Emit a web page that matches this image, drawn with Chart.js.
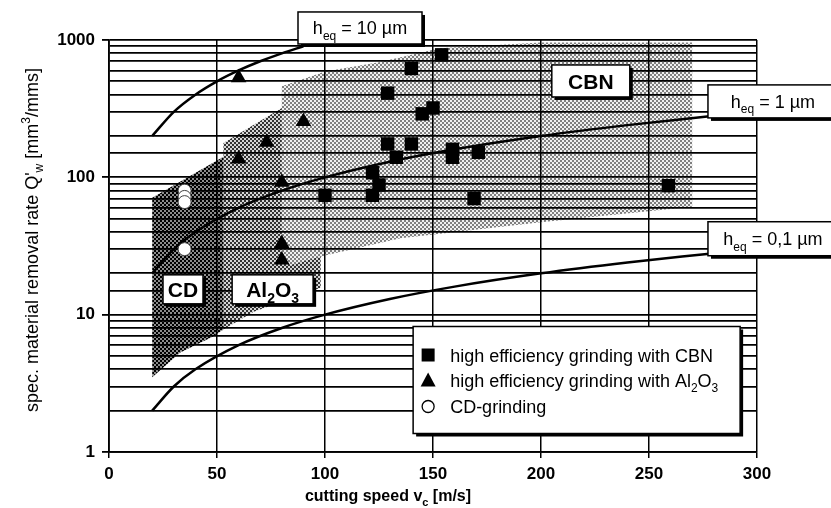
<!DOCTYPE html>
<html>
<head>
<meta charset="utf-8">
<script src="https://cdn.jsdelivr.net/npm/chart.js@4.4.0/dist/chart.umd.min.js"></script>
<style>
  html, body { margin: 0; padding: 0; background: #fff; }
</style>
</head>
<body>
<canvas id="chart" width="831" height="508"></canvas>
<script>
  // axis ticks
  const xTicks = [0, 50, 100, 150, 200, 250, 300];
  const yDecades = [1, 10, 100, 1000];

  // measured points
  const cbnV = [100, 122, 125, 122, 129, 129, 133, 140, 140, 145, 150, 154, 159, 159, 171, 169, 259];
  const cbnQ = [74, 108, 88, 74, 410, 175, 140, 620, 175, 290, 320, 780, 160, 140, 152, 70, 87];
  const aloV = [60, 60, 73, 90, 80, 80, 80];
  const aloQ = [530, 136, 180, 255, 92, 33, 25];
  const cdV = [35, 35, 35, 35];
  const cdQ = [80, 72, 66, 30];

  // h_eq lines
  const heq10V = [20, 30, 40, 50, 60, 70, 80, 90];
  const heq10Q = [200, 300, 400, 500, 600, 700, 800, 900];
  const heq1V = [20, 30, 40, 60, 80, 100, 130, 160, 200, 240, 278];
  const heq1Q = [20, 30, 40, 60, 80, 100, 130, 160, 200, 240, 278];
  const heq01V = [20, 30, 40, 60, 80, 100, 130, 160, 200, 240, 278];
  const heq01Q = [2, 3, 4, 6, 8, 10, 13, 16, 20, 24, 27.8];

  // shaded regions (outline vertices)
  const cdAreaV = [20, 20, 53, 53, 48, 33, 20];
  const cdAreaQ = [3.5, 71, 141, 7.8, 6.9, 5.3, 3.5];
  const aloAreaV = [53, 53, 80, 80, 84, 98, 98, 67, 53];
  const aloAreaQ = [7.8, 178, 320, 25, 23, 26.5, 15.7, 10.5, 7.8];
  const cbnAreaV = [80, 80, 100, 125, 153, 200, 270, 270, 200, 135, 100, 84, 80];
  const cbnAreaQ = [25, 460, 590, 690, 870, 960, 960, 61, 47, 36, 27, 23, 25];

  const pts = (xs, ys) => xs.map((x, i) => ({ x: x, y: ys[i] }));
  const FONT = '"Liberation Sans", Arial, Helvetica, sans-serif';

  function makePattern(a1, a2) {
    const pc = document.createElement('canvas');
    pc.width = 4; pc.height = 4;
    const g = pc.getContext('2d');
    g.fillStyle = 'rgba(0,0,0,' + a2 + ')';
    g.fillRect(2, 0, 2, 2); g.fillRect(0, 2, 2, 2);
    g.fillStyle = 'rgba(0,0,0,' + a1 + ')';
    g.fillRect(0, 0, 2, 2); g.fillRect(2, 2, 2, 2);
    return g.createPattern(pc, 'repeat');
  }

  // text with sub (1) / superscript (2) pieces
  function drawRich(ctx, parts, x, y, size, weight, align) {
    const fontFor = m => weight + ' ' + (m ? Math.round(size * 0.68) : size) + 'px ' + FONT;
    let w = 0;
    parts.forEach(p => { ctx.font = fontFor(p[1]); w += ctx.measureText(p[0]).width; });
    let cx = align === 'center' ? x - w / 2 : x;
    ctx.textAlign = 'left';
    ctx.textBaseline = 'alphabetic';
    parts.forEach(p => {
      ctx.font = fontFor(p[1]);
      const dy = p[1] === 1 ? size * 0.3 : p[1] === 2 ? -size * 0.42 : 0;
      ctx.fillText(p[0], cx, y + dy);
      cx += ctx.measureText(p[0]).width;
    });
  }

  function labelBox(ctx, x, y, w, h, parts, size, weight) {
    ctx.fillStyle = '#000';
    ctx.fillRect(x + 3, y + 3, w, h);
    ctx.fillStyle = '#fff';
    ctx.fillRect(x, y, w, h);
    ctx.strokeStyle = '#000';
    ctx.lineWidth = 1.5;
    ctx.strokeRect(x, y, w, h);
    ctx.fillStyle = '#000';
    drawRich(ctx, parts, x + w / 2, y + h / 2 + size * 0.36, size, weight, 'center');
  }

  const annotations = {
    id: 'annotations',
    afterDraw(chart) {
      const ctx = chart.ctx;
      const sx = chart.scales.x, sy = chart.scales.y;
      const px = v => sx.getPixelForValue(v), py = q => sy.getPixelForValue(q);
      ctx.save();

      labelBox(ctx, px(87.5), py(1600), 124, 32, [['h', 0], ['eq', 1], [' = 10 µm', 0]], 18, 'normal');
      labelBox(ctx, px(277.3), py(471), 130, 33, [['h', 0], ['eq', 1], [' = 1 µm', 0]], 18, 'normal');
      labelBox(ctx, px(277.3), py(47.5), 130, 34, [['h', 0], ['eq', 1], [' = 0,1 µm', 0]], 18, 'normal');
      labelBox(ctx, px(205), py(658), 78, 32, [['CBN', 0]], 21, 'bold');
      labelBox(ctx, px(25), py(19.5), 40, 29, [['CD', 0]], 21, 'bold');
      labelBox(ctx, px(57), py(19.5), 81, 29, [['Al', 0], ['2', 1], ['O', 0], ['3', 1]], 21, 'bold');

      // legend
      const lx = px(140.8), ly = py(8.2), lw = 327, lh = 107;
      ctx.fillStyle = '#000';
      ctx.fillRect(lx + 3, ly + 3, lw, lh);
      ctx.fillStyle = '#fff';
      ctx.fillRect(lx, ly, lw, lh);
      ctx.strokeStyle = '#000';
      ctx.lineWidth = 1.5;
      ctx.strokeRect(lx, ly, lw, lh);
      const mx = lx + 15;
      ctx.fillStyle = '#000';
      ctx.fillRect(mx - 6.5, ly + 22, 13, 13);
      ctx.beginPath();
      ctx.moveTo(mx, ly + 46); ctx.lineTo(mx + 7.5, ly + 60); ctx.lineTo(mx - 7.5, ly + 60); ctx.closePath();
      ctx.fill();
      ctx.beginPath();
      ctx.arc(mx, ly + 80, 6, 0, Math.PI * 2);
      ctx.lineWidth = 1.3;
      ctx.stroke();
      ctx.fillStyle = '#000';
      drawRich(ctx, [['high efficiency grinding with CBN', 0]], lx + 37, ly + 35, 18, 'normal', 'left');
      drawRich(ctx, [['high efficiency grinding with Al', 0], ['2', 1], ['O', 0], ['3', 1]], lx + 37, ly + 60, 18, 'normal', 'left');
      drawRich(ctx, [['CD-grinding', 0]], lx + 37, ly + 86, 18, 'normal', 'left');

      // axis titles
      ctx.save();
      ctx.translate(38, 240);
      ctx.rotate(-Math.PI / 2);
      drawRich(ctx, [["spec. material removal rate Q'", 0], ['w', 1], [' [mm', 0], ['3', 2], ['/mms]', 0]], 0, 0, 18, 'normal', 'center');
      ctx.restore();
      drawRich(ctx, [['cutting speed v', 0], ['c', 1], [' [m/s]', 0]], 388, 501, 16, 'bold', 'center');

      ctx.restore();
    }
  };

  const patDark = makePattern(1, 0.45);
  const patMid = makePattern(0.8, 0.16);
  const patLight = makePattern(0.5, 0.06);

  const area = (v, q, pat) => ({
    data: pts(v, q), fill: 'shape', backgroundColor: pat, borderColor: 'transparent',
    borderWidth: 0, pointRadius: 0, tension: 0, order: 3
  });
  const curve = (v, q) => ({
    data: pts(v, q), fill: false, borderColor: '#000', borderWidth: 2.5,
    pointRadius: 0, cubicInterpolationMode: 'monotone', order: 2
  });

  new Chart(document.getElementById('chart'), {
    type: 'line',
    data: {
      datasets: [
        { label: 'high efficiency grinding with CBN', data: pts(cbnV, cbnQ), showLine: false,
          pointStyle: 'rect', pointRadius: 9.5, backgroundColor: '#000', borderColor: '#000', borderWidth: 0, order: 0 },
        { label: 'high efficiency grinding with Al2O3', data: pts(aloV, aloQ), showLine: false,
          pointStyle: 'triangle', pointRadius: 9, backgroundColor: '#000', borderColor: '#000', borderWidth: 0, order: 0 },
        { label: 'CD-grinding', data: pts(cdV, cdQ), showLine: false,
          pointStyle: 'circle', pointRadius: 6.5, backgroundColor: '#fff', borderColor: '#444', borderWidth: 1, order: 0 },
        curve(heq10V, heq10Q),
        curve(heq1V, heq1Q),
        curve(heq01V, heq01Q),
        area(cdAreaV, cdAreaQ, patDark),
        area(aloAreaV, aloAreaQ, patMid),
        area(cbnAreaV, cbnAreaQ, patLight)
      ]
    },
    options: {
      responsive: false,
      animation: false,
      layout: { padding: { left: 0, right: 74, top: 40, bottom: 0 } },
      plugins: { legend: { display: false }, tooltip: { enabled: false } },
      scales: {
        x: {
          type: 'linear', min: 0, max: 300,
          afterFit: s => { s.height = 56; },
          afterBuildTicks: s => { s.ticks = xTicks.map(v => ({ value: v })); },
          grid: { color: '#000', lineWidth: 1.5, tickLength: 6, tickColor: '#000' },
          border: { color: '#000', width: 1.8 },
          ticks: { color: '#000', padding: 6, font: { family: FONT, size: 17, weight: 'bold' } }
        },
        y: {
          type: 'logarithmic', min: 1, max: 1000,
          afterFit: s => { s.width = 109; },
          grid: {
            color: '#000', lineWidth: 1.8, tickLength: 7,
            tickColor: c => yDecades.includes(c.tick && c.tick.value) ? '#000' : 'rgba(0,0,0,0)'
          },
          border: { color: '#000', width: 1.8 },
          ticks: {
            color: '#000', padding: 7, autoSkip: false,
            font: { family: FONT, size: 17, weight: 'bold' },
            callback: v => yDecades.includes(v) ? String(v) : ''
          }
        }
      }
    },
    plugins: [annotations]
  });
</script>
</body>
</html>
